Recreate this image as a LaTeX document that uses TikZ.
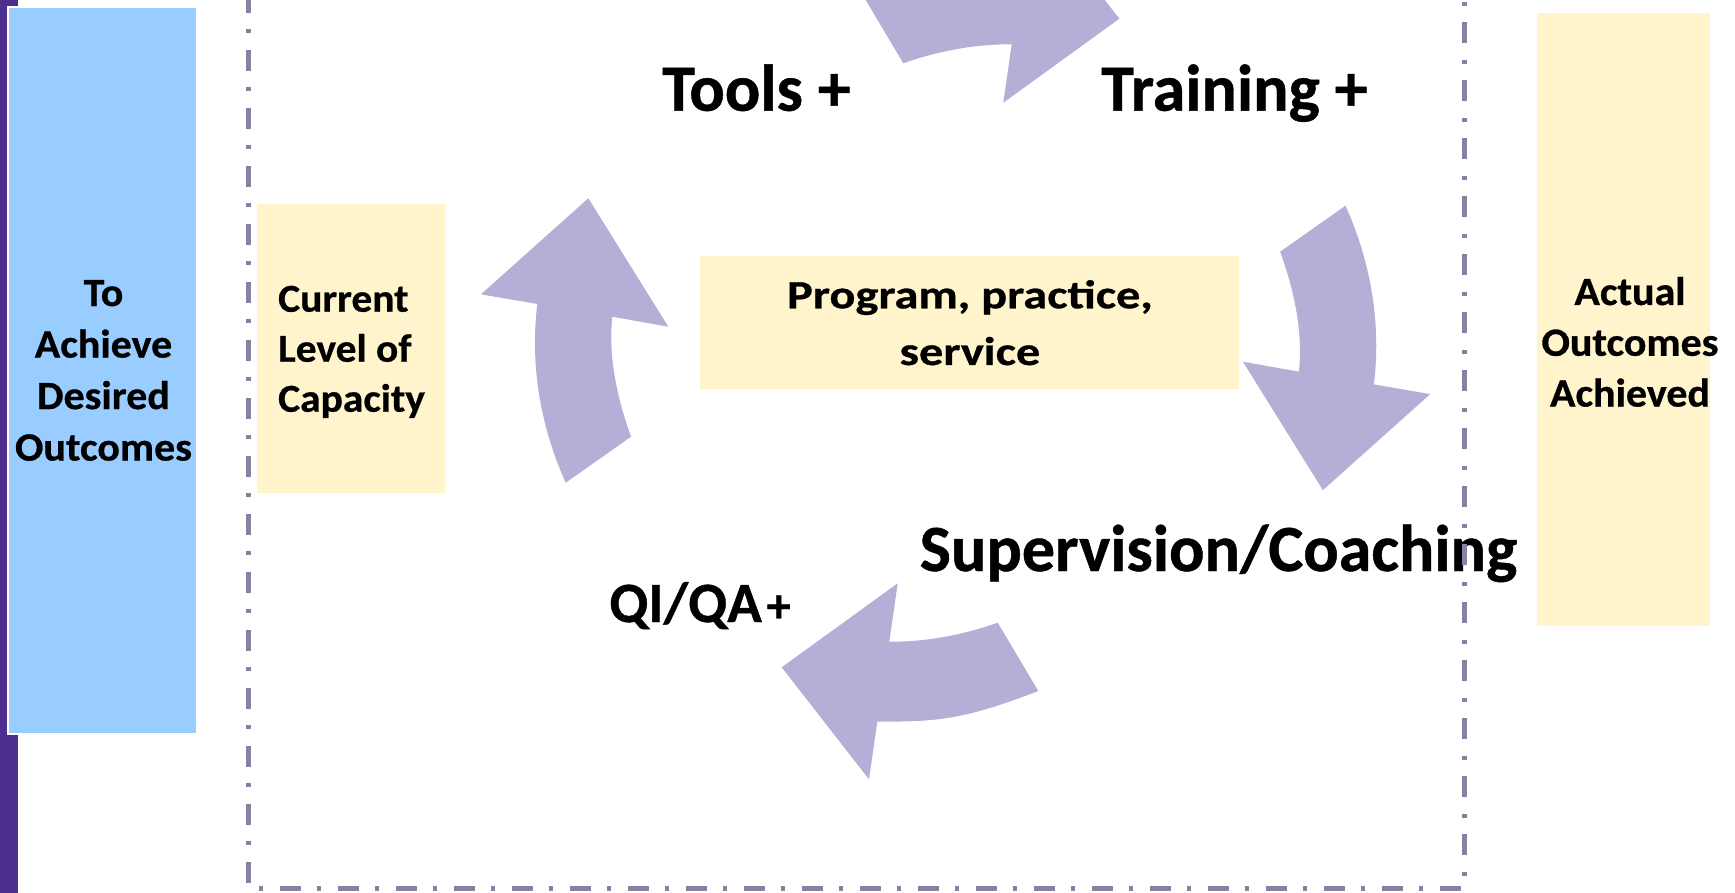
\documentclass[tikz,border=0pt]{standalone}
\usepackage{fontspec}
\setmainfont{Carlito}[BoldFeatures={FakeBold=0.7}]
\newfontfamily\boxfont{Carlito}[FakeStretch=1.05, BoldFeatures={FakeBold=0.7}]
\newfontfamily\progfont{Carlito}[FakeStretch=1.21, BoldFeatures={FakeBold=0.7}]
\definecolor{purplebar}{RGB}{76,46,142}
\definecolor{skyblue}{RGB}{153,204,255}
\definecolor{paleyellow}{RGB}{255,244,204}
\definecolor{lavender}{RGB}{181,174,214}
\definecolor{dashgray}{RGB}{136,130,162}
\newcommand\ArrowLeftShape{(588.3,198.3) -- (668.3,326.7) -- (612.3,316.7)
  .. controls (608.1,357.3) and (617.1,397.8) .. (631,436.7) -- (565.7,482.7)
  .. controls (540.2,426.0) and (529.9,364.7) .. (537.3,304) -- (481,294.3) -- cycle}
\newcommand\ArrowBottomShape{(781.7,667.3) -- (897.7,583.3) -- (889.3,641.7)
  .. controls (925.1,641.9) and (961.2,635.6) .. (997.7,622.7) -- (1038.3,691)
  .. controls (963.3,719.9) and (937.3,721.7) .. (877.3,721.7) -- (869,779.3) -- cycle}
\tikzset{
  panel/.style={inner sep=0pt, outer sep=0pt, anchor=north west, draw=none},
  arrowfill/.style={fill=lavender, draw=none},
  boxtext/.style={inner sep=0pt, align=center, text=black},
  bigtext/.style={inner sep=0pt, anchor=base, text=black, font=\bfseries\fontsize{66}{79}\selectfont},
  dashbox/.style={draw=dashgray, line width=5pt, dash pattern=on 21pt off 16pt on 4pt off 17pt, dash phase=36pt}
}
\begin{document}
\begin{tikzpicture}[x=1pt,y=-1pt]
\useasboundingbox (0,0) rectangle (1735,893);
\clip (0,0) rectangle (1735,893);
\fill[white] (0,0) rectangle (1735,893);
% left purple bar
\node[panel, fill=purplebar, minimum width=18pt, minimum height=893pt] (bar) at (0,0) {};
% blue goal box
\node[panel, fill=skyblue, draw=white, line width=2pt, minimum width=189pt, minimum height=727pt] (goal) at (8.3,6.8) {};
% yellow boxes
\node[panel, fill=paleyellow, minimum width=188pt, minimum height=288.5pt] (current) at (257.3,204) {};
\node[panel, fill=paleyellow, minimum width=539pt, minimum height=133pt] (program) at (700,256) {};
\node[panel, fill=paleyellow, minimum width=173.3pt, minimum height=612.3pt] (actual) at (1536.7,13.3) {};
% cycle arrows
\fill[arrowfill] \ArrowLeftShape;
\fill[arrowfill] \ArrowBottomShape;
\begin{scope}[rotate around={180:(955.6,344.2)}]
  \fill[arrowfill] \ArrowLeftShape;
\end{scope}
\begin{scope}[rotate around={180:(950.5,343)}]
  \fill[arrowfill] \ArrowBottomShape;
\end{scope}
% texts
\node[boxtext, font=\boxfont\bfseries\fontsize{40}{51.5}\selectfont] (goaltext) at (103.5,373)
  {To\strut\\Achieve\strut\\Desired\strut\\Outcomes\strut};
\node[boxtext, align=left, anchor=west, font=\boxfont\bfseries\fontsize{39.5}{50}\selectfont] (currenttext) at (278,351.7)
  {Current\strut\\Level of\strut\\Capacity\strut};
\node[boxtext, font=\progfont\bfseries\fontsize{40}{56.7}\selectfont] (programtext) at (970,325.3)
  {Program, practice,\strut\\service\strut};
\node[boxtext, font=\boxfont\bfseries\fontsize{40}{50.8}\selectfont] (actualtext) at (1630,345.6)
  {Actual\strut\\Outcomes\strut\\Achieved\strut};
\node[bigtext] (tools) at (756.5,110.7) {Tools +};
\node[bigtext] (training) at (1234.5,110.7) {Training +};
\node[bigtext] (supervision) at (1218.5,571) {Supervision/Coaching};
\node[inner sep=0pt, anchor=base, font=\bfseries\fontsize{57}{68}\selectfont] (qiqa) at (700,622)
  {QI/QA\kern5pt{\fontsize{48}{58}\selectfont+}};
% dashed frame
\draw[dashbox] (248,-30) -- (248,888.5) -- (1464,888.5) -- (1464,-30);
\end{tikzpicture}
\end{document}
